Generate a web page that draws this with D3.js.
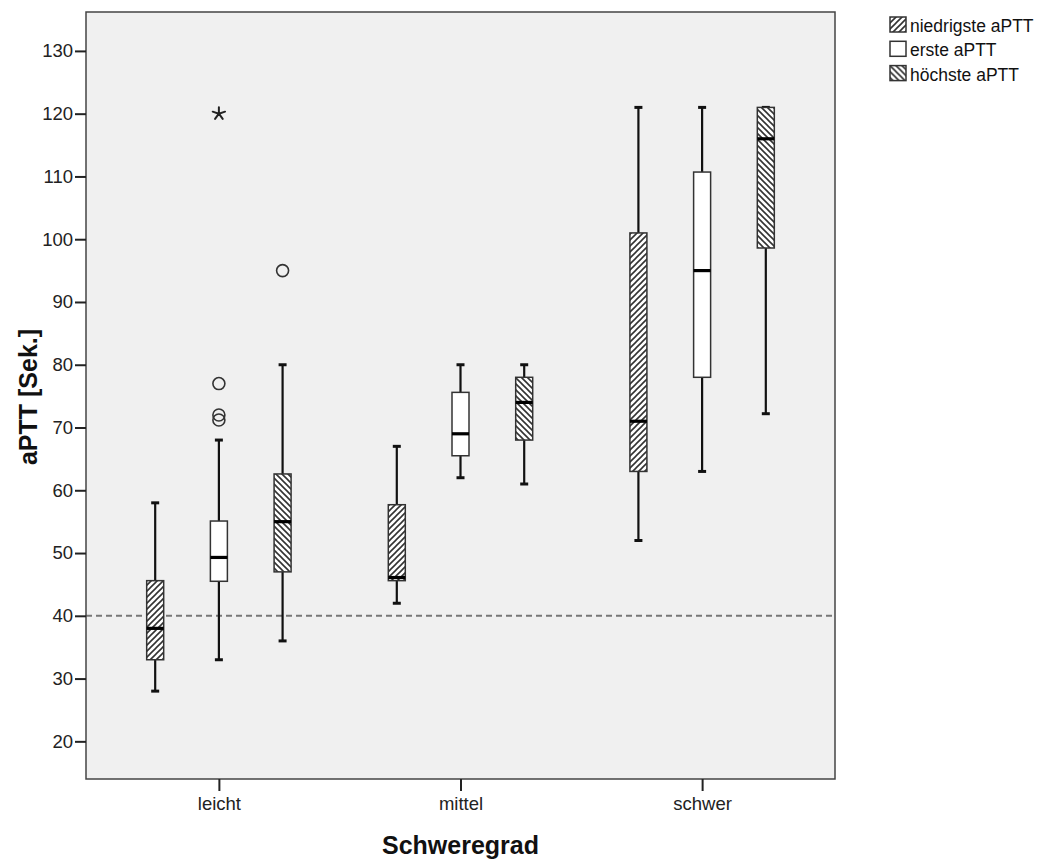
<!DOCTYPE html>
<html>
<head>
<meta charset="utf-8">
<script src="https://cdn.jsdelivr.net/npm/d3@7"></script>
<style>
  html, body { margin: 0; padding: 0; background: #ffffff; }
  svg { display: block; font-family: "Liberation Sans", Arial, sans-serif; }
</style>
</head>
<body>
<svg id="chart" width="1046" height="859"></svg>
<script>
// ---- data ----
const categories = ["leicht", "mittel", "schwer"];
const seriesNames = ["niedrigste aPTT", "erste aPTT", "höchste aPTT"];
const yTicks = [20, 30, 40, 50, 60, 70, 80, 90, 100, 110, 120, 130];
const referenceValue = 40;

// box statistics per series, in category order
const niedrigsteLow    = [28, 42, 52];
const niedrigsteQ1     = [33, 45.6, 63];
const niedrigsteMedian = [38, 46.1, 71];
const niedrigsteQ3     = [45.6, 57.7, 101];
const niedrigsteHigh   = [58, 67, 121];

const ersteLow    = [33, 62, 63];
const ersteQ1     = [45.5, 65.5, 78];
const ersteMedian = [49.3, 69, 95];
const ersteQ3     = [55.1, 75.6, 110.7];
const ersteHigh   = [68, 80, 121];

const hoechsteLow    = [36, 61, 72.2];
const hoechsteQ1     = [47, 68, 98.6];
const hoechsteMedian = [55, 74, 116];
const hoechsteQ3     = [62.6, 78, 121];
const hoechsteHigh   = [80, 80, 121];

// outliers
const outlierSeries   = ["erste aPTT", "erste aPTT", "erste aPTT", "erste aPTT", "höchste aPTT"];
const outlierCategory = ["leicht", "leicht", "leicht", "leicht", "leicht"];
const outlierValue    = [77, 72, 71.2, 120, 95];
const outlierKind     = ["circle", "circle", "circle", "extreme", "circle"];

// ---- build ----
const statsBySeries = {
  "niedrigste aPTT": [niedrigsteLow, niedrigsteQ1, niedrigsteMedian, niedrigsteQ3, niedrigsteHigh],
  "erste aPTT": [ersteLow, ersteQ1, ersteMedian, ersteQ3, ersteHigh],
  "höchste aPTT": [hoechsteLow, hoechsteQ1, hoechsteMedian, hoechsteQ3, hoechsteHigh]
};
const boxes = [];
seriesNames.forEach(s => {
  const st = statsBySeries[s];
  categories.forEach((c, i) => {
    boxes.push({series: s, category: c, low: st[0][i], q1: st[1][i], median: st[2][i], q3: st[3][i], high: st[4][i]});
  });
});
const outliers = outlierValue.map((v, i) => ({series: outlierSeries[i], category: outlierCategory[i], value: v, kind: outlierKind[i]}));

const svg = d3.select("#chart");
const plot = {left: 86, right: 835, top: 12, bottom: 779};

const x = d3.scalePoint().domain(categories).range([plot.left, plot.right]).padding(0.55);
const xSub = d3.scalePoint().domain(seriesNames).range([-63.7, 63.7]);
const y = d3.scaleLinear().domain([14, 136.2]).range([plot.bottom, plot.top]);
const boxW = 17;

// patterns
const defs = svg.append("defs");
function hatch(id, dir) {
  const p = defs.append("pattern").attr("id", id).attr("patternUnits", "userSpaceOnUse")
    .attr("width", 6).attr("height", 6);
  p.append("rect").attr("width", 6).attr("height", 6).attr("fill", "#ffffff");
  if (dir === "fwd") {
    p.append("path").attr("d", "M-1,1 L1,-1 M0,6 L6,0 M5,7 L7,5").attr("stroke", "#333").attr("stroke-width", 1.6);
  } else {
    p.append("path").attr("d", "M-1,5 L1,7 M0,0 L6,6 M5,-1 L7,1").attr("stroke", "#333").attr("stroke-width", 1.6);
  }
}
hatch("hatchFwd", "fwd");
hatch("hatchBack", "back");
const fillFor = {"niedrigste aPTT": "url(#hatchFwd)", "erste aPTT": "#ffffff", "höchste aPTT": "url(#hatchBack)"};

// plot background
svg.append("rect").attr("x", plot.left).attr("y", plot.top)
  .attr("width", plot.right - plot.left).attr("height", plot.bottom - plot.top)
  .attr("fill", "#f0f0f0");

// reference line
svg.append("line").attr("x1", plot.left).attr("x2", plot.right)
  .attr("y1", y(referenceValue)).attr("y2", y(referenceValue))
  .attr("stroke", "#777").attr("stroke-width", 2).attr("stroke-dasharray", "6,4");

// boxes
const g = svg.append("g");
const bx = d => x(d.category) + xSub(d.series);
const bg = g.selectAll("g.box").data(boxes).join("g").attr("class", "box");
// whiskers
bg.append("line").attr("x1", bx).attr("x2", bx).attr("y1", d => y(d.high)).attr("y2", d => y(d.q3))
  .attr("stroke", "#111").attr("stroke-width", 2.2);
bg.append("line").attr("x1", bx).attr("x2", bx).attr("y1", d => y(d.q1)).attr("y2", d => y(d.low))
  .attr("stroke", "#111").attr("stroke-width", 2.2);
// caps
bg.append("line").attr("x1", d => bx(d) - 4).attr("x2", d => bx(d) + 4).attr("y1", d => y(d.high)).attr("y2", d => y(d.high))
  .attr("stroke", "#111").attr("stroke-width", 3);
bg.append("line").attr("x1", d => bx(d) - 4).attr("x2", d => bx(d) + 4).attr("y1", d => y(d.low)).attr("y2", d => y(d.low))
  .attr("stroke", "#111").attr("stroke-width", 3);
// box
bg.append("rect").attr("x", d => bx(d) - boxW / 2).attr("width", boxW)
  .attr("y", d => y(d.q3)).attr("height", d => y(d.q1) - y(d.q3))
  .attr("fill", d => fillFor[d.series]).attr("stroke", "#333").attr("stroke-width", 1.5);
// median
bg.append("line").attr("x1", d => bx(d) - boxW / 2).attr("x2", d => bx(d) + boxW / 2)
  .attr("y1", d => y(d.median)).attr("y2", d => y(d.median))
  .attr("stroke", "#000").attr("stroke-width", 3.2);

// outliers
const og = svg.append("g");
og.selectAll("circle").data(outliers.filter(d => d.kind === "circle")).join("circle")
  .attr("cx", bx).attr("cy", d => y(d.value)).attr("r", 6)
  .attr("fill", "none").attr("stroke", "#333").attr("stroke-width", 1.6);
// extreme values: five-armed asterisk
const asteriskPath = (() => {
  let p = "";
  for (let k = 0; k < 5; k++) {
    const a = -Math.PI / 2 + k * 2 * Math.PI / 5;
    p += `M0,0L${(6.5 * Math.cos(a)).toFixed(2)},${(6.5 * Math.sin(a)).toFixed(2)}`;
  }
  return p;
})();
og.selectAll("path.extreme").data(outliers.filter(d => d.kind === "extreme")).join("path")
  .attr("class", "extreme")
  .attr("transform", d => `translate(${bx(d)},${y(d.value)})`)
  .attr("d", asteriskPath)
  .attr("fill", "none").attr("stroke", "#222").attr("stroke-width", 2).attr("stroke-linecap", "round");

// frame
svg.append("rect").attr("x", plot.left).attr("y", plot.top)
  .attr("width", plot.right - plot.left).attr("height", plot.bottom - plot.top)
  .attr("fill", "none").attr("stroke", "#444").attr("stroke-width", 1.5);

// y axis
const yAxis = d3.axisLeft(y).tickValues(yTicks).tickSize(11).tickPadding(2).tickFormat(d3.format("d"));
const ya = svg.append("g").attr("transform", `translate(${plot.left},0)`).call(yAxis);
ya.select(".domain").remove();
ya.selectAll(".tick line").attr("stroke", "#222").attr("stroke-width", 2);
ya.selectAll(".tick text").attr("fill", "#222").attr("font-size", 18.5)
  .attr("font-family", "'Liberation Sans', Arial, sans-serif");

// x axis
const xAxis = d3.axisBottom(x).tickSize(12).tickPadding(6);
const xa = svg.append("g").attr("transform", `translate(0,${plot.bottom})`).call(xAxis);
xa.select(".domain").remove();
xa.selectAll(".tick line").attr("stroke", "#222").attr("stroke-width", 2);
xa.selectAll(".tick text").attr("fill", "#222").attr("font-size", 18.5)
  .attr("font-family", "'Liberation Sans', Arial, sans-serif");

// axis titles
svg.append("text").attr("x", x("mittel")).attr("y", 854).attr("text-anchor", "middle")
  .attr("font-size", 25).attr("font-weight", "bold").attr("fill", "#111").text("Schweregrad");
svg.append("text").attr("transform", "translate(37,397) rotate(-90)").attr("text-anchor", "middle")
  .attr("font-size", 25).attr("font-weight", "bold").attr("fill", "#111").text("aPTT [Sek.]");

// legend
const lg = svg.append("g").attr("transform", "translate(890,17)");
const li = lg.selectAll("g").data(seriesNames).join("g").attr("transform", (d, i) => `translate(0,${i * 24.3})`);
li.append("rect").attr("x", 0).attr("y", 0).attr("width", 16).attr("height", 15)
  .attr("fill", d => fillFor[d]).attr("stroke", "#333").attr("stroke-width", 1.5);
li.append("text").attr("x", 20).attr("y", 15).attr("font-size", 17.5).attr("fill", "#111").text(d => d);
</script>
</body>
</html>
